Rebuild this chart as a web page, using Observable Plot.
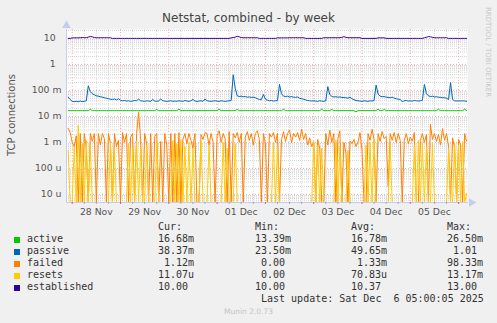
<!DOCTYPE html>
<html><head><meta charset="utf-8">
<script src="https://cdn.jsdelivr.net/npm/d3@7"></script>
<script src="https://cdn.jsdelivr.net/npm/@observablehq/plot@0.6"></script>
<style>
body{margin:0;background:#f0f0f0;}
#c{position:relative;width:497px;height:323px;background:#f0f0f0;overflow:hidden;font-family:"DejaVu Sans",sans-serif;}
#c svg{position:absolute;left:0;top:0;}
.abs{position:absolute;white-space:pre;}
.mono{font-family:"DejaVu Sans Mono",monospace;font-size:10px;line-height:12px;color:#333;}
.sw{position:absolute;width:6px;height:6px;}
</style></head><body><div id="c"></div><script>
// ---- data (hourly samples starting 2025-11-27 22:00 UTC) ----
const seriesNames = ["active","passive","failed","resets","established"];
const seriesColors = ["#00CC00","#0066B3","#FF8000","#FFCC00","#330099"];
// values in milli-units (m)
const activeMilli = [
 16.7,16.7,
 16.7,16.7,16.7,16.7,16.7,16.7,16.7,16.7,16.7,19.0,16.7,16.7,16.7,16.7,16.7,16.7,16.7,16.7,16.7,16.7,16.7,16.7,16.7,16.7,
 16.7,16.7,16.7,16.7,16.7,16.7,16.7,16.7,16.7,16.7,16.7,16.7,16.7,16.7,16.7,16.7,16.7,16.7,18.5,16.7,16.7,16.7,16.7,16.7,
 16.7,16.7,16.7,16.7,16.7,19.0,16.7,16.7,16.7,16.7,16.7,16.7,16.7,16.7,16.7,16.7,16.7,16.7,16.7,16.7,16.7,16.7,16.7,16.7,
 16.7,19.0,16.7,16.7,16.7,16.7,16.7,16.7,16.7,16.7,18.5,16.7,16.7,16.7,16.7,16.7,16.7,16.7,16.7,16.7,16.7,16.7,16.7,16.7,
 16.7,16.7,16.7,16.7,16.7,16.7,16.7,16.7,16.7,19.0,16.7,16.7,16.7,16.7,16.7,16.7,16.7,16.7,16.7,16.7,16.7,16.7,16.7,16.7,
 16.7,16.7,16.7,16.7,19.0,16.7,16.7,16.7,16.7,18.5,16.7,16.7,16.7,16.7,16.7,16.7,16.7,16.7,16.7,16.7,16.7,15.0,16.7,16.7,
 16.7,16.7,16.7,16.7,16.7,16.7,16.7,16.7,19.0,16.7,16.7,18.5,16.7,16.7,16.7,16.7,16.7,16.7,16.7,16.7,16.7,16.7,16.7,16.7,
 16.7,16.7,16.7,16.7,16.7,16.7,16.7,16.7,16.7,16.7,16.7,16.7,16.7,16.7,19.0,16.7,16.7,16.7,16.7,16.7,16.7,16.7,16.7,16.7,
 16.7,16.7,16.7,19.0,16.68
];
const passiveMilli = [
 55,45,
 38,37,38,37,39,37,38,40,150,90,75,68,62,60,57,55,52,50,48,46,45,47,43,48,
 42,40,41,39,40,38,39,41,40,46,40,39,38,40,39,38,45,39,38,40,47,40,39,38,
 39,40,38,39,38,40,39,38,41,39,38,40,45,39,38,39,40,38,47,40,39,38,39,40,
 39,38,40,39,38,39,40,41,400,120,62,58,60,57,58,55,56,54,55,52,48,45,44,70,
 46,42,40,41,39,40,41,170,75,60,58,60,56,58,55,54,56,50,48,46,43,41,40,39,
 40,39,38,40,39,38,40,140,70,58,56,57,55,56,54,53,52,50,55,48,44,41,40,39,
 38,40,39,38,40,39,41,160,72,60,57,58,55,54,52,55,50,48,46,45,37,40,41,39,
 40,39,41,40,39,40,42,170,75,62,58,60,56,57,55,54,53,52,50,45,200,45,40,39,
 40,39,40,39,38.37
];
const failedMilli = [
 3.5,2.4,
 1.0,0.7,1.8,0,2.2,0,2.2,0.6,0,2.2,1.1,2.2,0,2.2,0.8,2.2,1.4,0,2.2,0.9,0,2.2,0.7,1.2,
 0,2.4,1.0,2.2,0,1.6,2.2,0,2.2,15,1.3,0,2.2,0.9,0,2.2,0,1.7,2.2,0,1.1,0,2.2,0.8,
 0,2.2,0,2.2,0,2.4,0,1.3,2.2,0.9,2.2,1.2,0.6,2.2,0,0,2.0,1.3,2.4,2.2,0.8,2.2,1.0,0,
 1.9,2.8,1.0,2.2,1.4,0,2.6,0,2.2,1.5,2.4,1.0,2.2,0,1.6,2.6,1.2,2.2,0.8,2.2,2.8,1.3,0,2.2,
 0.9,0,2.2,1.6,2.4,1.0,2.2,0,1.3,2.6,1.1,2.2,3.0,1.0,2.2,1.6,2.4,1.2,3.2,1.3,2.2,0.8,1.5,0.7,
 1.0,0,1.3,0.6,0,0,2.2,0.8,3.0,1.0,2.2,0,1.4,2.8,0,1.0,0.4,0,1.1,0.9,1.3,0.7,1.0,2.4,
 0.5,0,0,2.2,1.2,3.2,1.3,0,2.2,1.1,2.6,1.4,1.7,0.02,2.2,1.2,2.4,1.0,2.2,1.2,0,1.2,2.2,0.9,
 1.6,1.1,2.4,0,0,1.2,2.2,1.0,2.0,0,5.0,1.3,2.2,1.1,2.0,0.8,3.4,1.2,2.2,0.7,0,1.5,0.6,0,
 1.3,0.8,0,2.2,1.12
];
const resetsMilli = [
 0.5,0,
 0,0.7,0,4.5,0,0.9,0,1.2,0,0.8,0,0,0,0,0,0,0,0,0,1.0,0,0.6,0,0,
 0,0,0,0,0.9,0,0.6,0,1.1,0,0.7,0,0,0.8,0,0,0,0,1.0,0,0,0,0,0,
 0,0,1.2,0,0.9,0,1.3,0,0.7,0,1.0,0,0.6,0,0,0,1.1,0,0,0,0.8,0,0,0,
 0,0,0,1.0,0,0.6,0,0,0,0.9,0,0,0,0,0,0,0,0,0,0,0,0,0,0,
 0,0,0,0,1.0,0,0.7,0,0,0,0,0,0,0,0,0,0,0,0,0,0,0,0,0,
 1.1,0,0.8,0,0.6,0,0,0,0,0,0,1.2,0,0.7,0,0,0,0.5,0,0,0,0,0,0,
 0,0,0.8,0,1.0,0,1.3,0,0,0,0,0,0,0,0.9,0,0,0,0,0,0,0,0,0,
 0,0,0.8,0,1.2,0,1.0,0,0.7,0,0,0.9,0,0,0,0,0,0,0,0.6,0,0,1.0,0,
 0.8,0,1.1,0,0.011
];
const established = [
 10,10,
 10.5,10.5,10.5,10.5,10.6,10.8,10.6,10.6,11.2,11.8,11.5,10.8,10.6,10.6,10.6,10.6,10.6,10.6,10.6,10.6,10,10,10,10,
 10,10,10,10,10,10,10,10,10,10,10,10,10,10,10,10,10,10,10,10,10,10,10,10,
 10,10,10,10,10,10,10,10,10,10,10,10,10,10,10,10,10,10,10,10,10,10,10,10,
 10,10,10,10,10,10,10,10.5,10.8,11.2,12,11.5,10.8,10.6,10.6,10.6,10.6,10.6,10.6,10.6,10.6,10,10,10,
 10,10,10,10,10,10,10.5,10.5,10.5,10.5,10.5,10.5,10.6,10.6,10.6,10.6,10.6,10.6,10.6,10.6,10,10,10,10,
 10,10,10,10,10,10.6,10.6,10.6,10.6,10.6,10.6,10.6,10.6,10.6,11,11.6,11,10.6,10.6,10.6,10.6,10.6,10.6,10.6,
 10,10,10,10,10,10,10,10,10.5,10.5,10.5,10.5,10,10,10,10,10,10,10,10,10,10,10,10,
 10,10,10,10,10,10,10,10.6,11,11.8,11.5,11,10.6,10.6,10.6,10.6,10.6,10.6,10.6,10,10,10,10,10,
 10,10,10,10,10
];
const yTickValues = [10, 1, 0.1, 0.01, 0.001, 0.0001, 0.00001];
const yTickLabels = ["10","1","100 m","10 m","1 m","100 u","10 u"];
const xTickDays = ["2025-11-28","2025-11-29","2025-11-30","2025-12-01","2025-12-02","2025-12-03","2025-12-04","2025-12-05"];
const xTickLabels = ["28 Nov","29 Nov","30 Nov","01 Dec","02 Dec","03 Dec","04 Dec","05 Dec"];
const legendCols = ["Cur:","Min:","Avg:","Max:"];
const legendCur = ["16.68m","38.37m"," 1.12m","11.07u","10.00"];
const legendMin = ["13.39m","23.50m"," 0.00"," 0.00","10.00"];
const legendAvg = ["16.78m","49.65m"," 1.33m","70.83u","10.37"];
const legendMax = ["26.50m"," 1.01","98.33m","13.17m","13.00"];

// ---- build ----
const T0 = Date.UTC(2025,10,27,22);
const H = 3600e3;
const xDomain = [new Date(Date.UTC(2025,10,27,21,10)), new Date(Date.UTC(2025,11,6,4,25))];
const yDomain = [4.9e-6, 22];
const valueSets = [activeMilli.map(v=>v/1000), passiveMilli.map(v=>v/1000), failedMilli.map(v=>v/1000), resetsMilli.map(v=>v/1000), established];
const data = [];
seriesNames.forEach((s,k)=>valueSets[k].forEach((v,i)=>data.push({s, t:new Date(T0+i*H), v})));

const yMinor = [];
for (let e=-6;e<=1;e++) for (let m=2;m<=9;m++){const v=m*Math.pow(10,e); if(v>yDomain[0]&&v<yDomain[1]) yMinor.push(v);}
const xMinor = [], xMajor = [];
for (let t=Date.UTC(2025,10,27,18); t<=+xDomain[1]; t+=6*H){ if(t<+xDomain[0]) continue; (new Date(t).getUTCHours()===0?xMajor:xMinor).push(new Date(t)); }
const xTicks = xTickDays.map(d=>new Date(d+"T12:00:00Z"));
const xLab = new Map(xTicks.map((d,i)=>[+d, xTickLabels[i]]));
const yLab = new Map(yTickValues.map((v,i)=>[v, /[mu]$/.test(yTickLabels[i]) ? yTickLabels[i] : yTickLabels[i]+"\u00a0\u00a0"]));
const axisColor = "#c4cdee";

const chart = Plot.plot({
  width: 497, height: 323,
  marginTop: 29, marginRight: 30, marginBottom: 121, marginLeft: 66,
  style: {background:"transparent", color:"#555", fontFamily:"DejaVu Sans", fontSize:"9.3px", overflow:"visible"},
  x: {type:"utc", domain: xDomain},
  y: {type:"log", domain: yDomain, clamp: true},
  color: {domain: seriesNames, range: seriesColors},
  marks: [
    Plot.frame({fill:"white", stroke:null}),
    Plot.ruleY(yMinor, {stroke:"#d2d2d2", strokeDasharray:"1,1", strokeWidth:1}),
    Plot.ruleX(xMinor, {stroke:"#dadada", strokeDasharray:"1,1", strokeWidth:1}),
    Plot.ruleY(yTickValues, {stroke:"#f2acac", strokeDasharray:"1,2", strokeWidth:1}),
    Plot.ruleX(xMajor, {stroke:"#f2acac", strokeDasharray:"1,2", strokeWidth:1}),
    Plot.line(data, {x:"t", y:d=>Math.max(d.v,1e-9), z:"s", stroke:"s", strokeWidth:1, curve:"linear"}),
    Plot.frame({anchor:"left", stroke:axisColor}),
    Plot.frame({anchor:"bottom", stroke:axisColor}),
    Plot.ruleX(xMinor, {stroke:"#aaa", insetTop:173, insetBottom:-2}),
    Plot.ruleX(xMajor, {stroke:"#e06060", insetTop:173, insetBottom:-2}),
    Plot.dot([0], {frameAnchor:"top-left", dy:-4, symbol:"triangle", r:3.2, fill:axisColor, stroke:null}),
    Plot.dot([0], {frameAnchor:"bottom-right", dx:4, symbol:"triangle", rotate:90, r:3.2, fill:axisColor, stroke:null}),
    Plot.axisY({ticks: yTickValues, tickFormat: v=>yLab.get(v), tickSize:0, tickPadding:5, label:null}),
    Plot.axisX({ticks: xTicks, tickFormat: d=>xLab.get(+d), tickSize:0, tickPadding:6, label:null})
  ]
});
const c = document.getElementById("c");
c.appendChild(chart);

function add(html, style, cls){const d=document.createElement("div"); d.className="abs "+(cls||""); d.textContent=html; Object.assign(d.style, style); c.appendChild(d); return d;}
add("Netstat, combined - by week", {left:"0px", width:"497px", textAlign:"center", top:"11px", fontSize:"12px", lineHeight:"14px", color:"#444"});
add("TCP connections", {left:"12px", top:"115px", fontSize:"10px", lineHeight:"12px", color:"#555", transform:"translate(-50%,-50%) rotate(-90deg)"});
add("RRDTOOL / TOBI OETIKER", {left:"488px", top:"52px", fontSize:"7px", lineHeight:"8px", color:"#c8c8c8", transform:"translate(-50%,-50%) rotate(90deg)"});
const colX = [158,255,351,447];
legendCols.forEach((t,j)=>add(t,{left:colX[j]+"px", top:"221px"},"mono"));
const cols = [legendCur, legendMin, legendAvg, legendMax];
seriesNames.forEach((s,k)=>{
  const top = 233 + 12*k;
  const sw = document.createElement("div"); sw.className="sw"; Object.assign(sw.style,{left:"14px", top:(top+4)+"px", background:seriesColors[k]}); c.appendChild(sw);
  add(s,{left:"27px", top:top+"px"},"mono");
  cols.forEach((col,j)=>add(col[k],{left:colX[j]+"px", top:top+"px"},"mono"));
});
add("Last update: Sat Dec  6 05:00:05 2025",{left:"261px", top:"293px"},"mono");
add("Munin 2.0.73",{left:"0px", width:"497px", textAlign:"center", top:"307px", fontSize:"7.5px", lineHeight:"10px", color:"#c4c4c4"});
</script></body></html>
